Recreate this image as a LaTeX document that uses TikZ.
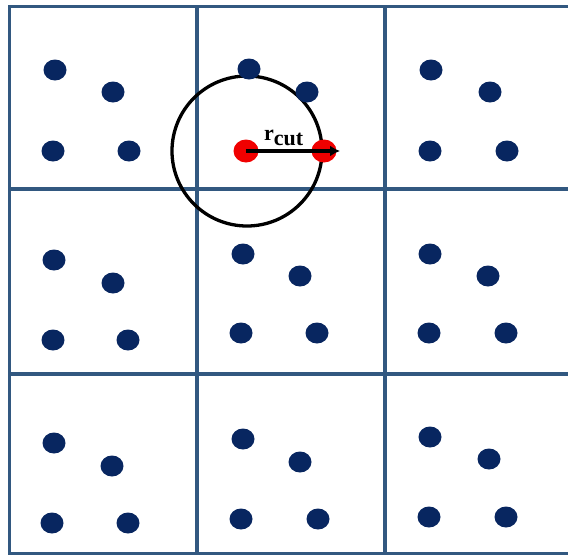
\documentclass[tikz,border=0pt]{standalone}
\usepackage{fontspec}
\setmainfont{Liberation Serif}
\usetikzlibrary{arrows.meta,shapes.geometric}
\definecolor{gridblue}{RGB}{50,88,128}
\definecolor{dotblue}{RGB}{8,38,96}
\definecolor{dotred}{RGB}{240,0,0}
\tikzset{
  gridline/.style={draw=gridblue,line width=3.6pt},
  bdot/.style={ellipse,fill=dotblue,minimum width=23pt,minimum height=21pt,inner sep=0pt},
  rdot/.style={ellipse,fill=dotred,minimum width=25pt,minimum height=23pt,inner sep=0pt},
  cutcircle/.style={draw=black,line width=3.3pt},
  cutarrow/.style={draw=black,line width=3.5pt,-{Latex[length=10pt,width=11pt]}},
  lbl/.style={font=\fontsize{22}{22}\selectfont\bfseries,inner sep=0pt,anchor=base}
}
\begin{document}
\begin{tikzpicture}[x=1pt,y=-1pt]
\useasboundingbox (0,0) rectangle (568,557);
% grid
\coordinate (t0) at (8,6.5); \coordinate (t1) at (568,6.5);
\draw[gridline] (t0) -- (t1);
\coordinate (l0) at (9.5,5); \coordinate (l1) at (9.5,555);
\draw[gridline] (l0) -- (l1);
\coordinate (v1a) at (197,5); \coordinate (v1b) at (197,555);
\draw[gridline] (v1a) -- (v1b);
\coordinate (v2a) at (385,5); \coordinate (v2b) at (385,555);
\draw[gridline] (v2a) -- (v2b);
\coordinate (h1a) at (8,189); \coordinate (h1b) at (568,189);
\draw[gridline] (h1a) -- (h1b);
\coordinate (h2a) at (8,374); \coordinate (h2b) at (568,374);
\draw[gridline] (h2a) -- (h2b);
\coordinate (h3a) at (8,553.5); \coordinate (h3b) at (568,553.5);
\draw[gridline] (h3a) -- (h3b);
% cut circle
\node[cutcircle,circle,minimum size=150pt,inner sep=0pt] (cut) at (247,151) {};
% blue dots row 1
\node[bdot] (a1) at (55,70) {};
\node[bdot] (a2) at (113,92) {};
\node[bdot] (a3) at (53,151) {};
\node[bdot] (a4) at (129,151) {};
\node[bdot] (b1) at (249,69) {};
\node[bdot] (b2) at (307,92) {};
\node[bdot] (c1) at (431,70) {};
\node[bdot] (c2) at (490,92) {};
\node[bdot] (c3) at (430,151) {};
\node[bdot] (c4) at (507,151) {};
% row 2
\node[bdot] (d1) at (54,260) {};
\node[bdot] (d2) at (113,283) {};
\node[bdot] (d3) at (53,340) {};
\node[bdot] (d4) at (128,340) {};
\node[bdot] (e1) at (243,254) {};
\node[bdot] (e2) at (300,276) {};
\node[bdot] (e3) at (241,333) {};
\node[bdot] (e4) at (317,333) {};
\node[bdot] (f1) at (430,254) {};
\node[bdot] (f2) at (488,276) {};
\node[bdot] (f3) at (429,333) {};
\node[bdot] (f4) at (506,333) {};
% row 3
\node[bdot] (g1) at (54,443) {};
\node[bdot] (g2) at (112,466) {};
\node[bdot] (g3) at (52,523) {};
\node[bdot] (g4) at (128,523) {};
\node[bdot] (k1) at (243,439) {};
\node[bdot] (k2) at (300,462) {};
\node[bdot] (k3) at (241,519) {};
\node[bdot] (k4) at (318,519) {};
\node[bdot] (m1) at (430,437) {};
\node[bdot] (m2) at (489,459) {};
\node[bdot] (m3) at (429,517) {};
\node[bdot] (m4) at (506,517) {};
% red dots and arrow
\node[rdot] (r1) at (246,151) {};
\node[rdot] (r2) at (324,151) {};
\coordinate (tip) at (340,151);
\draw[cutarrow] (r1.center) -- (tip);
\node[lbl] (rc) at (284,140) {r$_{\textbf{cut}}$};
\end{tikzpicture}
\end{document}
